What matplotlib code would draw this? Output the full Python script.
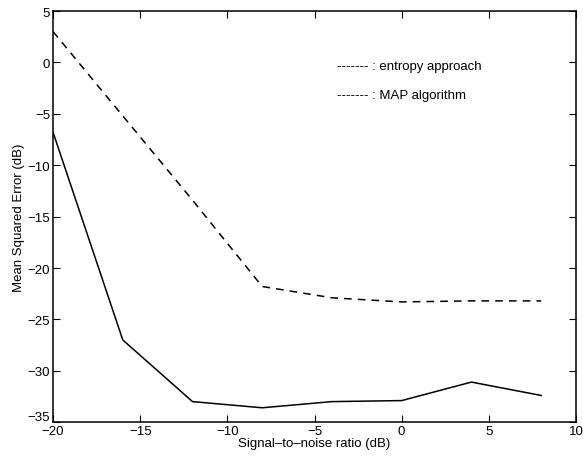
import matplotlib
matplotlib.use("Agg")
import matplotlib.pyplot as plt
import matplotlib.transforms as mtransforms

plt.rcParams['font.family'] = ['Liberation Sans', 'DejaVu Sans']

snr = [-20, -16, -12, -8, -4, 0, 4, 8]
entropy_mse = [-6.8, -27.0, -33.0, -33.6, -33.0, -32.9, -31.1, -32.4]
map_mse = [3.0, -5.2, -13.4, -21.8, -22.9, -23.3, -23.2, -23.2]

xticks = [-20, -15, -10, -5, 0, 5, 10]
yticks = [-35, -30, -25, -20, -15, -10, -5, 0, 5]

fig = plt.figure(figsize=(5.83, 4.64), dpi=100)
ax = fig.add_axes([0.091, 0.088, 0.897, 0.886])

ax.plot(snr, entropy_mse, color='black', linewidth=1.1, linestyle='-')
ax.plot(snr, map_mse, color='black', linewidth=1.1, linestyle=(0, (5, 4)))

ax.set_xlim(-20, 10)
ax.set_ylim(-35, 5)
ax.set_xticks(xticks)
ax.set_yticks(yticks)
ax.tick_params(direction='in', top=True, right=True, length=5, width=0.8,
               labelsize=9.5, colors='black', pad=2)
for s in ax.spines.values():
    s.set_linewidth(1.1)

# raise the bottom y tick label slightly, as in the reference
fig.canvas.draw()
ylabels = ax.get_yticklabels()
off = mtransforms.ScaledTranslation(0, 5 / 72, fig.dpi_scale_trans)
ylabels[0].set_transform(ylabels[0].get_transform() + off)

ax.set_xlabel('Signal\u2013to\u2013noise ratio (dB)', fontsize=9.5, labelpad=0)
ax.set_ylabel('Mean Squared Error (dB)', fontsize=9.5, labelpad=2)

ax.text(0.543, 0.867, '------- : entropy approach', transform=ax.transAxes,
        fontsize=9.5, va='center', ha='left')
ax.text(0.543, 0.795, '------- : MAP algorithm', transform=ax.transAxes,
        fontsize=9.5, va='center', ha='left')

fig.savefig('out.png', dpi=100)
